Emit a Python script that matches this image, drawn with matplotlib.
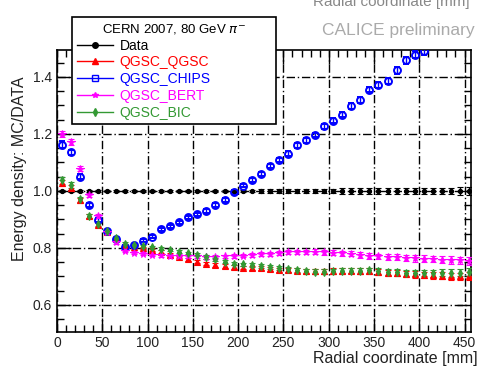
import matplotlib
matplotlib.use("Agg")
import matplotlib.pyplot as plt
from matplotlib.lines import Line2D
from matplotlib.ticker import MultipleLocator, FormatStrFormatter

plt.rcParams["font.family"] = ["Liberation Sans", "DejaVu Sans"]

# radial bins [mm]
radius = [5, 15, 25, 35, 45, 55, 65, 75, 85, 95,
          105, 115, 125, 135, 145, 155, 165, 175, 185, 195,
          205, 215, 225, 235, 245, 255, 265, 275, 285, 295,
          305, 315, 325, 335, 345, 355, 365, 375, 385, 395,
          405, 415, 425, 435, 445, 455]

data_ratio = [1.0] * 46
data_err = [0.004, 0.003, 0.003, 0.003, 0.003, 0.003, 0.003, 0.003, 0.003, 0.003,
            0.003, 0.003, 0.003, 0.003, 0.004, 0.004, 0.004, 0.004, 0.004, 0.005,
            0.005, 0.005, 0.006, 0.006, 0.006, 0.007, 0.007, 0.007, 0.008, 0.008,
            0.008, 0.009, 0.009, 0.009, 0.010, 0.010, 0.010, 0.011, 0.011, 0.011,
            0.012, 0.012, 0.012, 0.012, 0.013, 0.013]

qgsc_qgsc = [1.028, 1.010, 0.968, 0.912, 0.880, 0.856, 0.830, 0.810, 0.805, 0.800,
             0.794, 0.786, 0.776, 0.768, 0.760, 0.752, 0.745, 0.740, 0.736, 0.733,
             0.731, 0.729, 0.728, 0.726, 0.724, 0.722, 0.720, 0.719, 0.718, 0.718,
             0.719, 0.720, 0.720, 0.719, 0.718, 0.716, 0.713, 0.711, 0.709, 0.707,
             0.705, 0.704, 0.703, 0.700, 0.700, 0.701]

qgsc_chips = [1.163, 1.135, 1.050, 0.950, 0.897, 0.858, 0.830, 0.805, 0.810, 0.826,
              0.840, 0.865, 0.876, 0.890, 0.908, 0.918, 0.930, 0.950, 0.968, 0.996,
              1.019, 1.037, 1.060, 1.086, 1.110, 1.131, 1.160, 1.178, 1.196, 1.227,
              1.246, 1.267, 1.298, 1.320, 1.356, 1.373, 1.386, 1.423, 1.458, 1.478,
              1.490, 1.520, 1.550, 1.580, 1.610, 1.640]

qgsc_bert = [1.200, 1.172, 1.078, 0.986, 0.912, 0.856, 0.820, 0.790, 0.783, 0.780,
             0.776, 0.774, 0.773, 0.772, 0.771, 0.770, 0.768, 0.768, 0.770, 0.771,
             0.773, 0.775, 0.778, 0.780, 0.783, 0.785, 0.786, 0.786, 0.787, 0.785,
             0.783, 0.781, 0.779, 0.775, 0.772, 0.770, 0.768, 0.767, 0.765, 0.764,
             0.762, 0.761, 0.759, 0.758, 0.756, 0.754]

qgsc_bic = [1.037, 1.022, 0.970, 0.912, 0.883, 0.860, 0.836, 0.815, 0.810, 0.806,
            0.803, 0.798, 0.793, 0.787, 0.782, 0.776, 0.768, 0.760, 0.752, 0.745,
            0.742, 0.740, 0.737, 0.733, 0.728, 0.725, 0.722, 0.718, 0.717, 0.716,
            0.718, 0.719, 0.720, 0.720, 0.721, 0.720, 0.716, 0.714, 0.713, 0.712,
            0.712, 0.711, 0.713, 0.712, 0.713, 0.715]

mc_err = [0.012, 0.010, 0.009, 0.008, 0.007, 0.006, 0.006, 0.005, 0.005, 0.005,
          0.005, 0.005, 0.005, 0.005, 0.005, 0.005, 0.006, 0.006, 0.006, 0.006,
          0.006, 0.007, 0.007, 0.007, 0.007, 0.008, 0.008, 0.008, 0.008, 0.009,
          0.009, 0.009, 0.009, 0.010, 0.010, 0.010, 0.011, 0.011, 0.011, 0.012,
          0.012, 0.012, 0.013, 0.013, 0.013, 0.014]

series = [
    ("Data", data_ratio, data_err, "black", "o", 3, "black"),
    ("QGSC_QGSC", qgsc_qgsc, mc_err, "#ff0000", "^", 4, "#ff0000"),
    ("QGSC_CHIPS", qgsc_chips, mc_err, "#0000ff", "o", 5, "none"),
    ("QGSC_BERT", qgsc_bert, mc_err, "#ff00ff", "*", 5.5, "#ff00ff"),
    ("QGSC_BIC", qgsc_bic, mc_err, "#339933", "d", 4, "#339933"),
]

fig = plt.figure(figsize=(4.79, 3.67), dpi=100)
ax = fig.add_axes([0.119, 0.0954, 0.864, 0.7686])

handles = []
for name, vals, errs, col, mk, ms, mfc in series:
    ax.errorbar(radius, vals, yerr=errs, fmt=mk, color=col, ms=ms, mfc=mfc,
                mec=col, mew=1.4 if mfc == "none" else 0.8, elinewidth=1,
                capsize=2, capthick=1, clip_on=True, zorder=3)
    handles.append(Line2D([0], [0], color=col, marker=("s" if name == "QGSC_CHIPS" else mk),
                          ms=4, mfc=mfc, mec=col, lw=1))

ax.set_xlim(0, 457)
ax.set_ylim(0.505, 1.495)

ax.xaxis.set_major_locator(MultipleLocator(50))
ax.xaxis.set_minor_locator(MultipleLocator(10))
ax.yaxis.set_major_locator(MultipleLocator(0.2))
ax.yaxis.set_minor_locator(MultipleLocator(0.05))
ax.yaxis.set_major_formatter(FormatStrFormatter("%.1f"))

ax.tick_params(which="both", direction="in", top=True, right=True, colors="black",
               labelsize=10, labelcolor="#222222")
ax.tick_params(axis="x", which="both", pad=3)
ax.tick_params(which="major", length=10, width=1)
ax.tick_params(which="minor", length=5, width=1)
for s in ax.spines.values():
    s.set_linewidth(1.2)

ax.grid(True, which="major", color="black", linestyle=(0, (6, 2, 1, 2)), linewidth=1)
ax.set_axisbelow(True)

ax.set_xlabel("Radial coordinate [mm]", fontsize=11.5, color="#222222", loc="right")
ax.xaxis.set_label_coords(1.017, -0.068)
ax.set_ylabel("Energy density: MC/DATA", fontsize=11.5, color="#222222")
ax.yaxis.set_label_coords(-0.072, 0.578)

leg = fig.legend(handles, [s[0] for s in series], loc="upper left",
                 bbox_to_anchor=(0.150, 0.954, 0.426, 0.0), mode="expand",
                 title="CERN 2007, 80 GeV $\\pi^{-}$", title_fontsize=9.5,
                 fontsize=10, labelcolor="linecolor", frameon=True, fancybox=False,
                 edgecolor="black", framealpha=1, borderaxespad=0, handlelength=2.6,
                 handletextpad=0.5, labelspacing=0.2, borderpad=0.35)
leg.get_frame().set_linewidth(1.2)
leg.set_zorder(10)

fig.text(0.99, 0.918, "CALICE preliminary", fontsize=12.5, color="#aaaaaa", ha="right", va="center")
fig.text(0.98, 0.995, "Radial coordinate [mm]", fontsize=11, color="#888888", ha="right", va="center")

fig.savefig("out.png", dpi=100)
